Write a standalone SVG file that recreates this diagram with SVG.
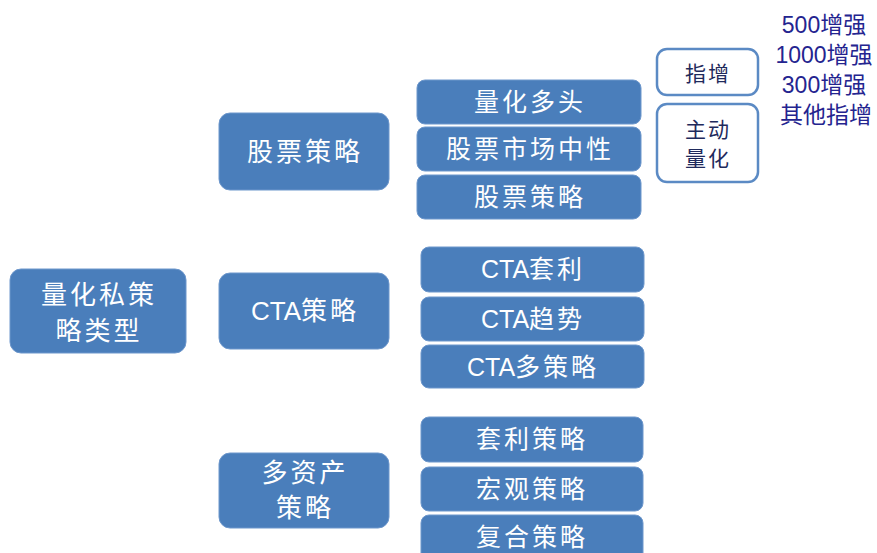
<svg xmlns="http://www.w3.org/2000/svg" width="877" height="553" viewBox="0 0 877 553">
<style>
.box{fill:#4a7ebb;stroke:#6d97cc;stroke-width:1}
.obox{fill:#ffffff;stroke:#5b8ac4;stroke-width:2.5}
.t{font-family:"Liberation Sans","Noto Sans CJK SC",sans-serif;fill:#ffffff;text-anchor:middle;dominant-baseline:central}
.big{font-size:26px;letter-spacing:3px}
.mid{font-size:25px;letter-spacing:3px}
.lat{letter-spacing:0px}
.ot{font-family:"Liberation Sans","Noto Sans CJK SC",sans-serif;fill:#1f2a5c;font-size:21px;text-anchor:middle;dominant-baseline:central;letter-spacing:2px}
.lt{font-family:"Liberation Sans","Noto Sans CJK SC",sans-serif;fill:#24248f;font-size:23px;text-anchor:middle}
</style>
<rect width="877" height="553" fill="#ffffff"/>
<g id="connectors"></g>
<g id="root">
<rect class="box" x="10" y="269" width="176" height="84" rx="11"/>
<text class="t big" x="99" y="295">量化私策</text>
<text class="t big" x="99" y="331">略类型</text>
</g>
<g id="stock">
<rect class="box" x="219" y="113" width="170" height="77" rx="11"/>
<text class="t big" x="305" y="152">股票策略</text>
</g>
<g id="cta">
<rect class="box" x="219" y="273" width="170" height="76" rx="11"/>
<text class="t big" x="305" y="311"><tspan class="lat">CTA</tspan>策略</text>
</g>
<g id="multi">
<rect class="box" x="219" y="453" width="170" height="75" rx="11"/>
<text class="t big" x="305" y="473">多资产</text>
<text class="t big" x="305" y="508">策略</text>
</g>
<g id="s1">
<rect class="box" x="417" y="80" width="224" height="44" rx="8"/>
<text class="t mid" x="530" y="102">量化多头</text>
</g>
<g id="s2">
<rect class="box" x="417" y="127" width="224" height="44" rx="8"/>
<text class="t mid" x="530" y="149">股票市场中性</text>
</g>
<g id="s3">
<rect class="box" x="417" y="175" width="224" height="44" rx="8"/>
<text class="t mid" x="530" y="197">股票策略</text>
</g>
<g id="c1">
<rect class="box" x="421" y="247" width="223" height="45" rx="8"/>
<text class="t mid" x="533" y="269"><tspan class="lat">CTA</tspan>套利</text>
</g>
<g id="c2">
<rect class="box" x="421" y="297" width="223" height="44" rx="8"/>
<text class="t mid" x="533" y="319"><tspan class="lat">CTA</tspan>趋势</text>
</g>
<g id="c3">
<rect class="box" x="421" y="345" width="223" height="43" rx="8"/>
<text class="t mid" x="533" y="367"><tspan class="lat">CTA</tspan>多策略</text>
</g>
<g id="m1">
<rect class="box" x="421" y="417" width="222" height="45" rx="8"/>
<text class="t mid" x="532" y="439">套利策略</text>
</g>
<g id="m2">
<rect class="box" x="421" y="467" width="222" height="44" rx="8"/>
<text class="t mid" x="532" y="489">宏观策略</text>
</g>
<g id="m3">
<rect class="box" x="421" y="515" width="222" height="48" rx="8"/>
<text class="t mid" x="532" y="537">复合策略</text>
</g>
<g id="zhizeng">
<rect class="obox" x="657" y="49" width="101" height="46" rx="10"/>
<text class="ot" x="708" y="73">指增</text>
</g>
<g id="zhudong">
<rect class="obox" x="657" y="104" width="101" height="78" rx="10"/>
<text class="ot" x="708" y="129">主动</text>
<text class="ot" x="708" y="158">量化</text>
</g>
<g id="list">
<text class="lt" x="824" y="33">500增强</text>
<text class="lt" x="824" y="63">1000增强</text>
<text class="lt" x="824" y="93">300增强</text>
<text class="lt" x="826" y="123">其他指增</text>
</g>
</svg>
